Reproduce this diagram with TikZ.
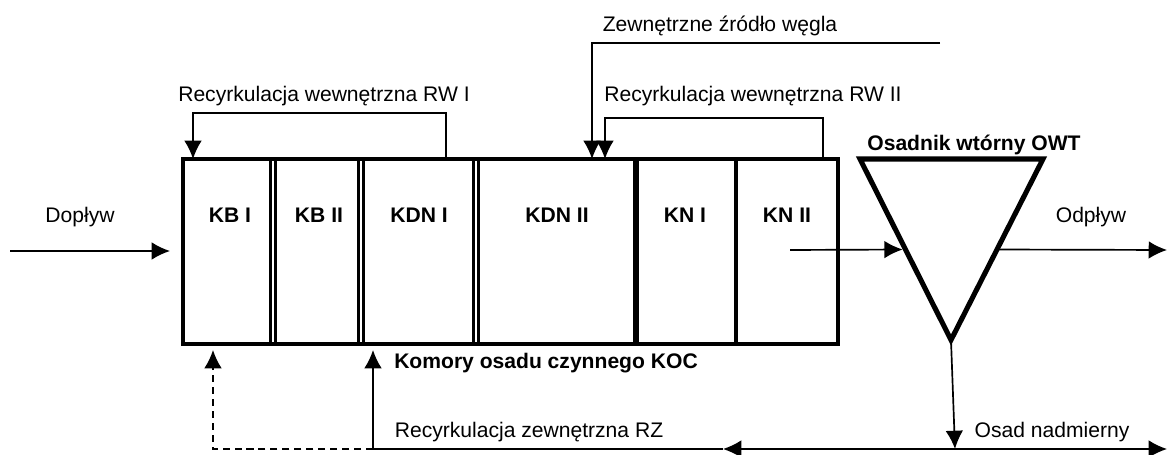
\documentclass[tikz,border=0pt]{standalone}
\usepackage{fontspec}
\setmainfont{Liberation Sans}
\usetikzlibrary{arrows.meta, calc, positioning}

\begin{document}
\begin{tikzpicture}[>={Latex[length=13pt,width=12.5pt]}, x=0.25mm, y=-0.25mm,
    font=\fontsize{15pt}{18pt}\selectfont,
    lbl/.style={anchor=base, inner sep=0pt},
    komora/.style={lbl, font=\fontsize{15pt}{18pt}\selectfont\bfseries},
    flow/.style={->, line width=1.2pt},
    dwall/.style={line width=2pt, double, double distance=1.5pt}]
    \useasboundingbox (0,0) rectangle (1168,455);

    % Komory osadu czynnego
    \foreach \x in {273, 361, 476} {
        \draw[dwall] (\x,159) -- (\x,344);
    }
    \draw[line width=4.4pt] (636,159) -- (636,344);
    \draw[line width=2.4pt] (736,159) -- (736,344);
    \draw[line width=2.8pt] (183,159) rectangle (838,344);

    \node[komora] (kb1) at (230,223) {KB I};
    \node[komora] (kb2) at (319,223) {KB II};
    \node[komora] (kdn1) at (419,223) {KDN I};
    \node[komora] (kdn2) at (557,223) {KDN II};
    \node[komora] (kn1) at (685,223) {KN I};
    \node[komora] (kn2) at (787,223) {KN II};
    \node[komora] (koc) at (546,369) {Komory osadu czynnego KOC};

    % Osadnik wtórny
    \coordinate (owt-l) at (860,159);
    \coordinate (owt-r) at (1043,159);
    \coordinate (owt-d) at (951,340);
    \draw[line width=3.6pt, line join=miter] (owt-l) -- (owt-r) -- (owt-d) -- cycle;
    \node[komora] (owt) at (974,151) {Osadnik wtórny OWT};

    % Punkty połączeń
    \coordinate (dop) at (10,251);
    \coordinate (dop-in) at (170,251);
    \coordinate (rw1-out) at (446,159);
    \coordinate (rw1-in) at (193,159);
    \coordinate (wegiel) at (940,43);
    \coordinate (wegiel-in) at (592,159);
    \coordinate (rw2-out) at (823,159);
    \coordinate (rw2-in) at (605,159);
    \coordinate (kn2-out) at (790,250);
    \coordinate (owt-in) at ($(owt-l)!0.5!(owt-d)$);
    \coordinate (owt-out) at ($(owt-r)!0.5!(owt-d)$);
    \coordinate (odp) at (1167,250);
    \coordinate (jct) at (955,449);
    \coordinate (mid) at (723,449);
    \coordinate (nadm) at (1167,449);
    \coordinate (rz-in) at (373,350);
    \coordinate (rz2-in) at (213,350);

    % Przepływy
    \draw[flow] (dop) -- (dop-in);
    \draw[flow] (rw1-out) -- ++(0,-46) -| (rw1-in);
    \draw[flow] (wegiel) -| (wegiel-in);
    \draw[flow] (rw2-out) -- ++(0,-41) -| (rw2-in);
    \draw[flow, shorten >=2pt] (kn2-out) -- (owt-in);
    \draw[flow] (owt-out) -- (odp);
    \draw[flow] (owt-d) -- (jct);
    \draw[flow] (jct) -- (nadm);
    \draw[flow] (jct) -- (mid);
    \draw[flow] (mid) -- (rz-in |- mid) -- (rz-in);
    \draw[flow, dash pattern=on 5pt off 3.5pt] (rz-in |- mid) -| (rz2-in);

    % Opisy
    \node[lbl] (doplyw) at (80,223) {Dopływ};
    \node[lbl] (odplyw) at (1091,223) {Odpływ};
    \node[lbl] (rw1) at (324,102) {Recyrkulacja wewnętrzna RW I};
    \node[lbl] (rw2) at (753,102) {Recyrkulacja wewnętrzna RW II};
    \node[lbl] (wegiel-txt) at (720,32) {Zewnętrzne źródło węgla};
    \node[lbl] (rz) at (529,438) {Recyrkulacja zewnętrzna RZ};
    \node[lbl] (nadmierny) at (1052,438) {Osad nadmierny};

\end{tikzpicture}
\end{document}
